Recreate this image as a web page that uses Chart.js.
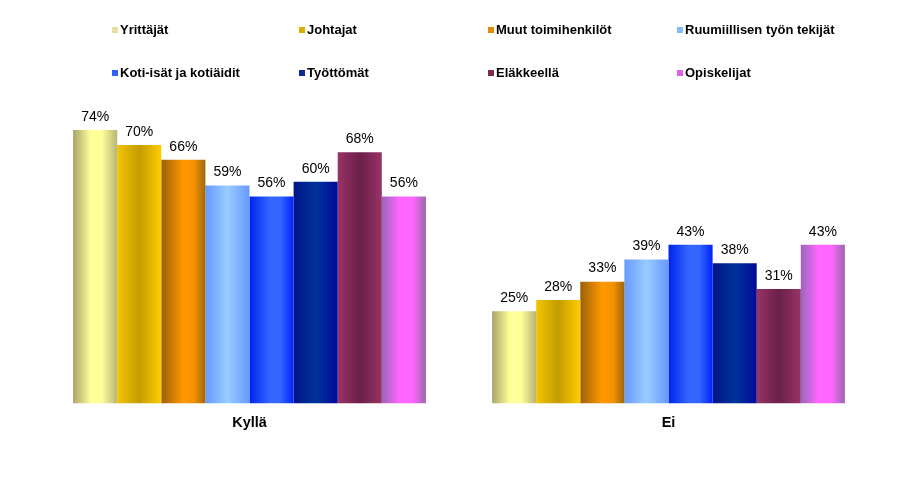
<!DOCTYPE html>
<html>
<head>
<meta charset="utf-8">
<script src="https://cdn.jsdelivr.net/npm/chart.js@4.4.0/dist/chart.umd.min.js"></script>
<style>
  html, body { margin: 0; padding: 0; background: #fff; }
  #wrap { width: 912px; height: 489px; }
</style>
</head>
<body>
<div id="wrap"><canvas id="chart" width="912" height="489"></canvas></div>
<script>
// Data
const categories = ['Kyllä', 'Ei'];
const seriesNames = ['Yrittäjät', 'Johtajat', 'Muut toimihenkilöt', 'Ruumiillisen työn tekijät',
                     'Koti-isät ja kotiäidit', 'Työttömät', 'Eläkkeellä', 'Opiskelijat'];
const yrittajat = [74, 25];
const johtajat = [70, 28];
const muut = [66, 33];
const ruumiillisen = [59, 39];
const koti = [56, 43];
const tyottomat = [60, 38];
const elakkeella = [68, 31];
const opiskelijat = [56, 43];
const seriesValues = [yrittajat, johtajat, muut, ruumiillisen, koti, tyottomat, elakkeella, opiskelijat];

// Horizontal gradient stops per series (left, middle, right)
const gradStops = [
    [[0, '#a8a46a'], [0.4, '#ffff99'], [0.65, '#ffff99'], [1, '#b8b474']],
    [[0, '#f4c400'], [0.5, '#c49c00'], [1, '#ffcc00']],
    [[0, '#9c6008'], [0.5, '#ff9900'], [0.75, '#f49000'], [1, '#9c6810']],
    [[0, '#6699ff'], [0.5, '#99ccff'], [1, '#6699ff']],
    [[0, '#0022ee'], [0.45, '#3366ff'], [0.7, '#3366ff'], [1, '#0022ff']],
    [[0, '#001488'], [0.5, '#003399'], [1, '#000a99']],
    [[0, '#993366'], [0.5, '#6a2048'], [1, '#993366']],
    [[0, '#9966bb'], [0.4, '#ff66ff'], [0.7, '#ff66ff'], [1, '#9966aa']]
];
const legendColors = ['#e6e0a0', '#d8b000', '#e08a10', '#88b8f8', '#3060ff', '#0a2a90', '#80284e', '#e060e8'];

const catPct = 0.842;
const yMax = 100;

function barGradient(c) {
    const chart = c.chart;
    const stops = gradStops[c.datasetIndex];
    const xs = chart.scales && chart.scales.x;
    if (!chart.chartArea || !xs) return stops[1][1];
    const catW = (xs.right - xs.left) / categories.length;
    const groupW = catW * catPct;
    const barW = groupW / seriesNames.length;
    const left = xs.getPixelForValue(c.dataIndex) - groupW / 2 + c.datasetIndex * barW;
    const g = chart.ctx.createLinearGradient(left, 0, left + barW, 0);
    stops.forEach(s => g.addColorStop(s[0], s[1]));
    return g;
}

// value labels above bars
const valueLabels = {
    id: 'valueLabels',
    afterDatasetsDraw(chart) {
        const ctx = chart.ctx;
        ctx.save();
        ctx.font = '14px "Liberation Sans", Arial, sans-serif';
        ctx.fillStyle = '#000';
        ctx.textAlign = 'center';
        ctx.textBaseline = 'bottom';
        chart.data.datasets.forEach((ds, i) => {
            chart.getDatasetMeta(i).data.forEach((el, j) => {
                ctx.fillText(ds.data[j] + '%', el.x, el.y - 6);
            });
        });
        ctx.restore();
    }
};

// legend: 2 rows x 4 columns
const gridLegend = {
    id: 'gridLegend',
    afterDraw(chart) {
        const ctx = chart.ctx;
        const colX = [112, 299, 488, 677];
        const rowY = [30, 73];
        ctx.save();
        ctx.font = 'bold 13px "Liberation Sans", Arial, sans-serif';
        ctx.textBaseline = 'middle';
        ctx.textAlign = 'left';
        seriesNames.forEach((name, i) => {
            const x = colX[i % 4], y = rowY[Math.floor(i / 4)];
            ctx.fillStyle = legendColors[i];
            ctx.fillRect(x, y - 3, 6, 6);
            ctx.fillStyle = '#000';
            ctx.fillText(name, x + 8, y);
        });
        ctx.restore();
    }
};

new Chart(document.getElementById('chart'), {
    type: 'bar',
    data: {
        labels: categories,
        datasets: seriesNames.map((name, i) => ({
            label: name,
            data: seriesValues[i],
            backgroundColor: barGradient,
            borderWidth: 0,
            categoryPercentage: catPct,
            barPercentage: 1.0
        }))
    },
    options: {
        responsive: false,
        animation: false,
        layout: { padding: { left: 40, right: 34, top: 34, bottom: 54 } },
        plugins: { legend: { display: false }, tooltip: { enabled: false } },
        scales: {
            x: {
                grid: { display: false },
                border: { display: false },
                ticks: {
                    padding: 3,
                    color: '#000',
                    font: { family: '"Liberation Sans", Arial, sans-serif', size: 14.5, weight: 'bold' }
                }
            },
            y: { display: false, min: 0, max: yMax }
        }
    },
    plugins: [valueLabels, gridLegend]
});
</script>
</body>
</html>
